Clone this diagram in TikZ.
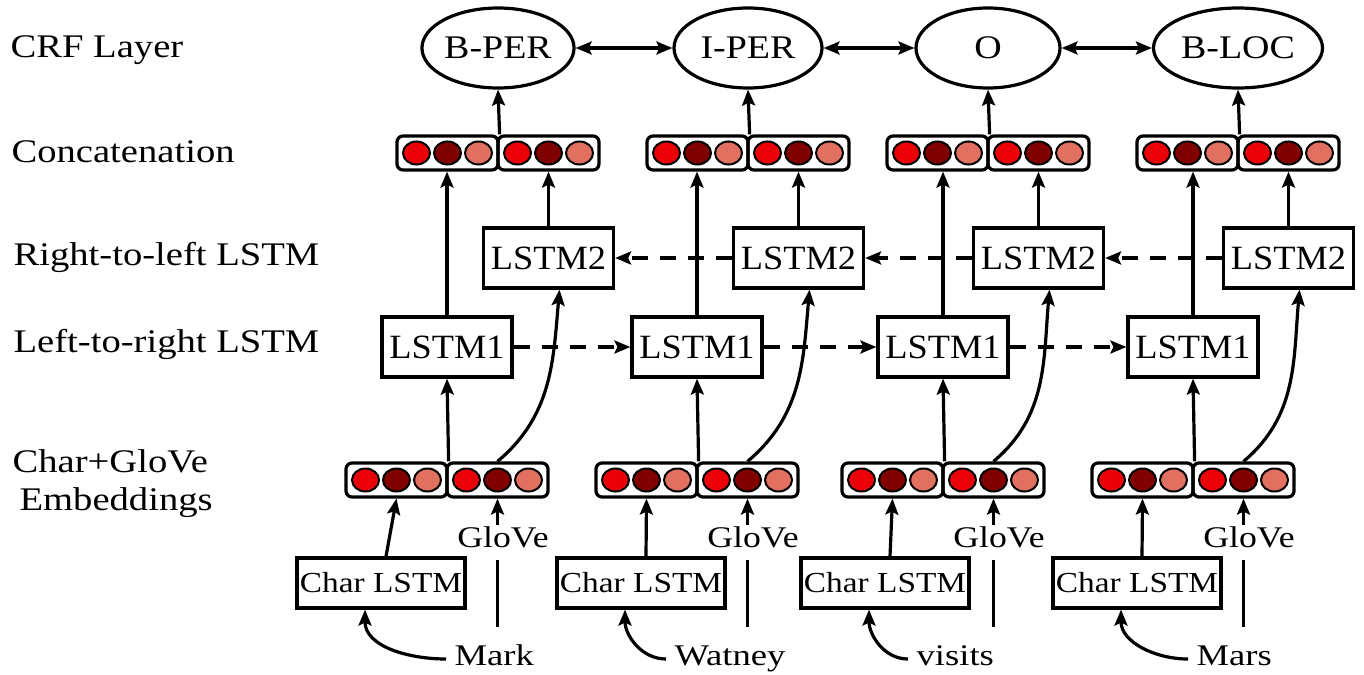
\documentclass[tikz,border=0pt]{standalone}
\usepackage{fontspec}
\setmainfont{Liberation Serif}
\usepackage{graphicx}
\usetikzlibrary{arrows.meta,calc,shapes.geometric}

\definecolor{embred}{RGB}{236,0,8}
\definecolor{embdark}{RGB}{128,0,0}
\definecolor{embpink}{RGB}{226,112,96}

% horizontally stretched text, as in the original figure
\newcommand{\sx}[2][1.15]{\scalebox{#1}[1]{#2}}

\tikzset{
  tip/.tip={Stealth[length=16pt,width=13pt,inset=3pt]},
  arr/.style={-tip},
  dasharr/.style={arr, dash pattern=on 16pt off 12pt},
  crf/.style={draw, ellipse, minimum height=80pt, inner sep=0pt, font=\fontsize{33}{38}\selectfont},
  lstm/.style={draw, minimum width=130pt, minimum height=60pt, inner sep=0pt, font=\fontsize{34}{40}\selectfont},
  charbox/.style={draw, minimum width=168pt, minimum height=50pt, inner sep=0pt, font=\fontsize{29}{34}\selectfont},
  vec/.style={draw, rounded corners=6pt, minimum width=101pt, minimum height=34pt, inner sep=0pt},
  dot/.style={draw, line width=2pt},
  rowlabel/.style={anchor=base west, inner sep=0pt, font=\fontsize{33}{38}\selectfont},
  wordlabel/.style={anchor=base west, inner sep=0pt, font=\fontsize{30}{36}\selectfont},
}

\begin{document}
\begin{tikzpicture}[x=1pt, y=-1pt, line width=3.2pt]
\useasboundingbox (0,0) rectangle (1364,674);

% row labels
\node[rowlabel] (lcrf) at (9,58) {\sx[1.17]{CRF Layer}};
\node[rowlabel] (lcat) at (10,162) {\sx[1.17]{Concatenation}};
\node[rowlabel] (lrtl) at (12,265) {\sx[1.17]{Right-to-left LSTM}};
\node[rowlabel] (lltr) at (12,352) {\sx[1.17]{Left-to-right LSTM}};
\node[rowlabel] (lchr) at (11,472) {\sx[1.17]{Char+GloVe}};
\node[rowlabel] (lemb) at (18,510) {\sx[1.17]{Embeddings}};

% one column per word
\foreach \i/\cx/\ex/\hx/\wx/\tok/\lab/\ew in {
    0/498/447/381/453/Mark/B-PER/149pt,
    1/748/697/641/673/Watney/I-PER/148pt,
    2/988/943/885/915/visits/O/144pt,
    3/1238/1193/1137/1195/Mars/B-LOC/169pt} {
  \node[crf, minimum width=\ew] (t\i) at (\cx,48) {\sx{\lab}};
  \node[vec] (ca\i) at (\cx-50.5,153) {};
  \node[vec] (cb\i) at (\cx+50.5,153) {};
  \node[lstm] (r\i) at (\cx+50.5,258) {\sx[1.07]{LSTM2}};
  \node[lstm] (l\i) at (\ex,347) {\sx[1.07]{LSTM1}};
  \node[vec] (ea\i) at (\ex-50.5,480) {};
  \node[vec] (eb\i) at (\ex+50.5,480) {};
  \node[anchor=base, inner sep=0pt, font=\fontsize{30}{36}\selectfont] (g\i) at (\ex+56,547) {\sx[1.19]{GloVe}};
  \node[charbox] (h\i) at (\hx,583) {\sx{Char LSTM}};
  \node[wordlabel] (w\i) at (\wx,665) {\sx[1.22]{\tok}};
  \coordinate (gb\i) at (\ex+50.5,627);
  % red units
  \foreach \v in {ca\i,cb\i,ea\i,eb\i} {
    \draw[dot, fill=embred] ($(\v)+(-31,0)$) ellipse [x radius=13.5, y radius=11.5];
    \draw[dot, fill=embdark] (\v) ellipse [x radius=13.5, y radius=11.5];
    \draw[dot, fill=embpink] ($(\v)+(31,0)$) ellipse [x radius=13.5, y radius=11.5];
  }
  % upward connections
  \draw[arr] (ca\i.north east) -- (t\i.south);
  \draw[arr] (r\i.north) -- (cb\i.south);
  \draw[arr] (l\i.north) -- (l\i.north |- ca\i.south);
  \draw[arr] (ea\i.north east) -- (l\i.south);
  \draw[arr] (eb\i.north) to[out=40,in=-95] ($(r\i.south)+(11,0)$);
  \draw[arr] ($(h\i.north)+(5,0)$) -- (ea\i.south);
  \draw[arr] (g\i.north -| eb\i.south) -- (eb\i.south);
  \draw ($(g\i.south -| gb\i)+(0,11)$) -- (gb\i);
  \draw[arr] ($(w\i.base west)+(-7,-6)$) to[out=180,in=-90] ($(h\i.south)+(-16,0)$);
}

% recurrent links
\foreach \i/\j in {0/1,1/2,2/3} {
  \draw[tip-tip] (t\i.east) -- (t\j.west);
  \draw[dasharr] (l\i.east) -- (l\j.west);
  \draw[dasharr] (r\j.west) -- (r\i.east);
}
\end{tikzpicture}
\end{document}
